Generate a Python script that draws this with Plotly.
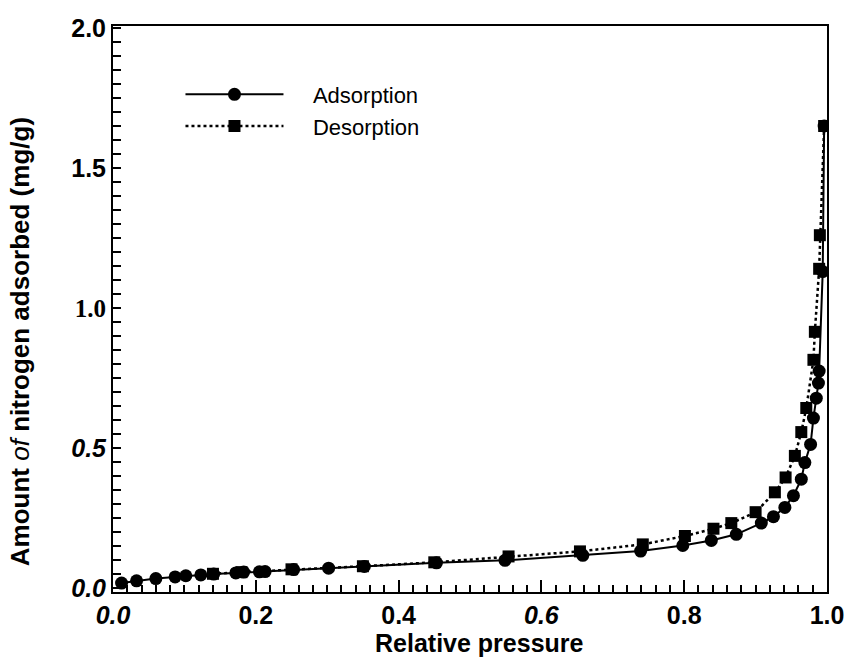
import plotly.graph_objects as go

# Nitrogen isotherm: relative pressure (P/P0) vs. amount adsorbed (mg/g)
ads_p = [0.012, 0.033, 0.060, 0.087, 0.102, 0.123, 0.141, 0.172, 0.183, 0.205,
         0.213, 0.253, 0.302, 0.352, 0.453, 0.549, 0.658, 0.739, 0.798, 0.838,
         0.873, 0.908, 0.925, 0.941, 0.953, 0.964, 0.969, 0.977, 0.981, 0.985,
         0.988, 0.989, 0.994, 0.996]
ads_q = [0.018, 0.026, 0.034, 0.040, 0.044, 0.047, 0.050, 0.054, 0.057, 0.058,
         0.059, 0.066, 0.071, 0.077, 0.090, 0.099, 0.117, 0.132, 0.152, 0.170,
         0.192, 0.232, 0.255, 0.288, 0.330, 0.389, 0.448, 0.513, 0.607, 0.678,
         0.732, 0.775, 1.130, 1.650]

des_p = [0.996, 0.990, 0.989, 0.983, 0.981, 0.971, 0.964, 0.955, 0.942, 0.927,
         0.900, 0.866, 0.841, 0.801, 0.742, 0.654, 0.554, 0.450, 0.350, 0.250,
         0.180, 0.140]
des_q = [1.650, 1.260, 1.140, 0.915, 0.815, 0.643, 0.557, 0.472, 0.395, 0.342,
         0.271, 0.232, 0.212, 0.186, 0.156, 0.131, 0.113, 0.092, 0.078, 0.067,
         0.057, 0.051]

x_tickvals = [0.0, 0.2, 0.4, 0.6, 0.8, 1.0]
x_ticktext = ["<i>0.0</i>", "0.2", "0.4", "<i>0.6</i>", "0.8", "1.0"]
y_tickvals = [0.0, 0.5, 1.0, 1.5, 2.0]
y_ticktext = ["<i>0.0</i>", "<i>0.5</i>",
              "<span style='font-family:Liberation Serif'>1.0</span>", "1.5", "2.0"]

x_title = "Relative pressure"
y_title = "Amount <i style='font-weight:normal'>of</i> nitrogen adsorbed (mg/g)"

SANS = "Liberation Sans, Arial, sans-serif"
GAP = "\u00a0" * 4  # spacing between legend line sample and its label

fig = go.Figure()
fig.add_trace(go.Scatter(
    x=ads_p, y=ads_q, name=GAP + "Adsorption", mode="lines+markers",
    line=dict(color="black", width=2),
    marker=dict(symbol="circle", size=13, color="black"),
))
fig.add_trace(go.Scatter(
    x=des_p, y=des_q, name=GAP + "Desorption", mode="lines+markers",
    line=dict(color="black", width=2.5, dash="dot"),
    marker=dict(symbol="square", size=12, color="black"),
))

axis_common = dict(
    showline=True, linecolor="black", linewidth=2, mirror=True,
    showgrid=False, zeroline=False, ticks="inside", tickcolor="black",
    tickwidth=1.5, tickmode="array",
    tickfont=dict(family=SANS, size=25, color="black", weight="bold"),
)

fig.update_xaxes(
    **axis_common,
    range=[0, 1.0], tickvals=x_tickvals, ticktext=x_ticktext, ticklen=12,
    minor=dict(dtick=0.02, ticks="inside", ticklen=7, tickcolor="black", tickwidth=1.5),
)
fig.update_yaxes(
    **axis_common,
    range=[-0.014, 2.007], tickvals=y_tickvals, ticktext=y_ticktext, ticklen=8,
    minor=dict(dtick=0.05, ticks="inside", ticklen=8, tickcolor="black", tickwidth=1.5),
)

fig.add_annotation(text=x_title, xref="paper", yref="paper",
                   x=0.514, y=-0.090, xanchor="center", yanchor="middle",
                   showarrow=False,
                   font=dict(family=SANS, size=25, color="black", weight="bold"))
fig.add_annotation(text=y_title, xref="paper", yref="paper",
                   x=-0.130, y=0.4417, xanchor="center", yanchor="middle",
                   textangle=-90, showarrow=False,
                   font=dict(family=SANS, size=26, color="black", weight="bold"))

fig.update_layout(
    width=848, height=660,
    margin=dict(l=113, r=21, t=26, b=68, autoexpand=False),
    paper_bgcolor="white", plot_bgcolor="white",
    showlegend=True,
    legend=dict(
        x=0.0945, y=0.916, xanchor="left", yanchor="top",
        bgcolor="rgba(0,0,0,0)", itemwidth=98, tracegroupgap=0,
        font=dict(family=SANS, size=22, color="black"),
    ),
)

fig.write_html("out.html")
